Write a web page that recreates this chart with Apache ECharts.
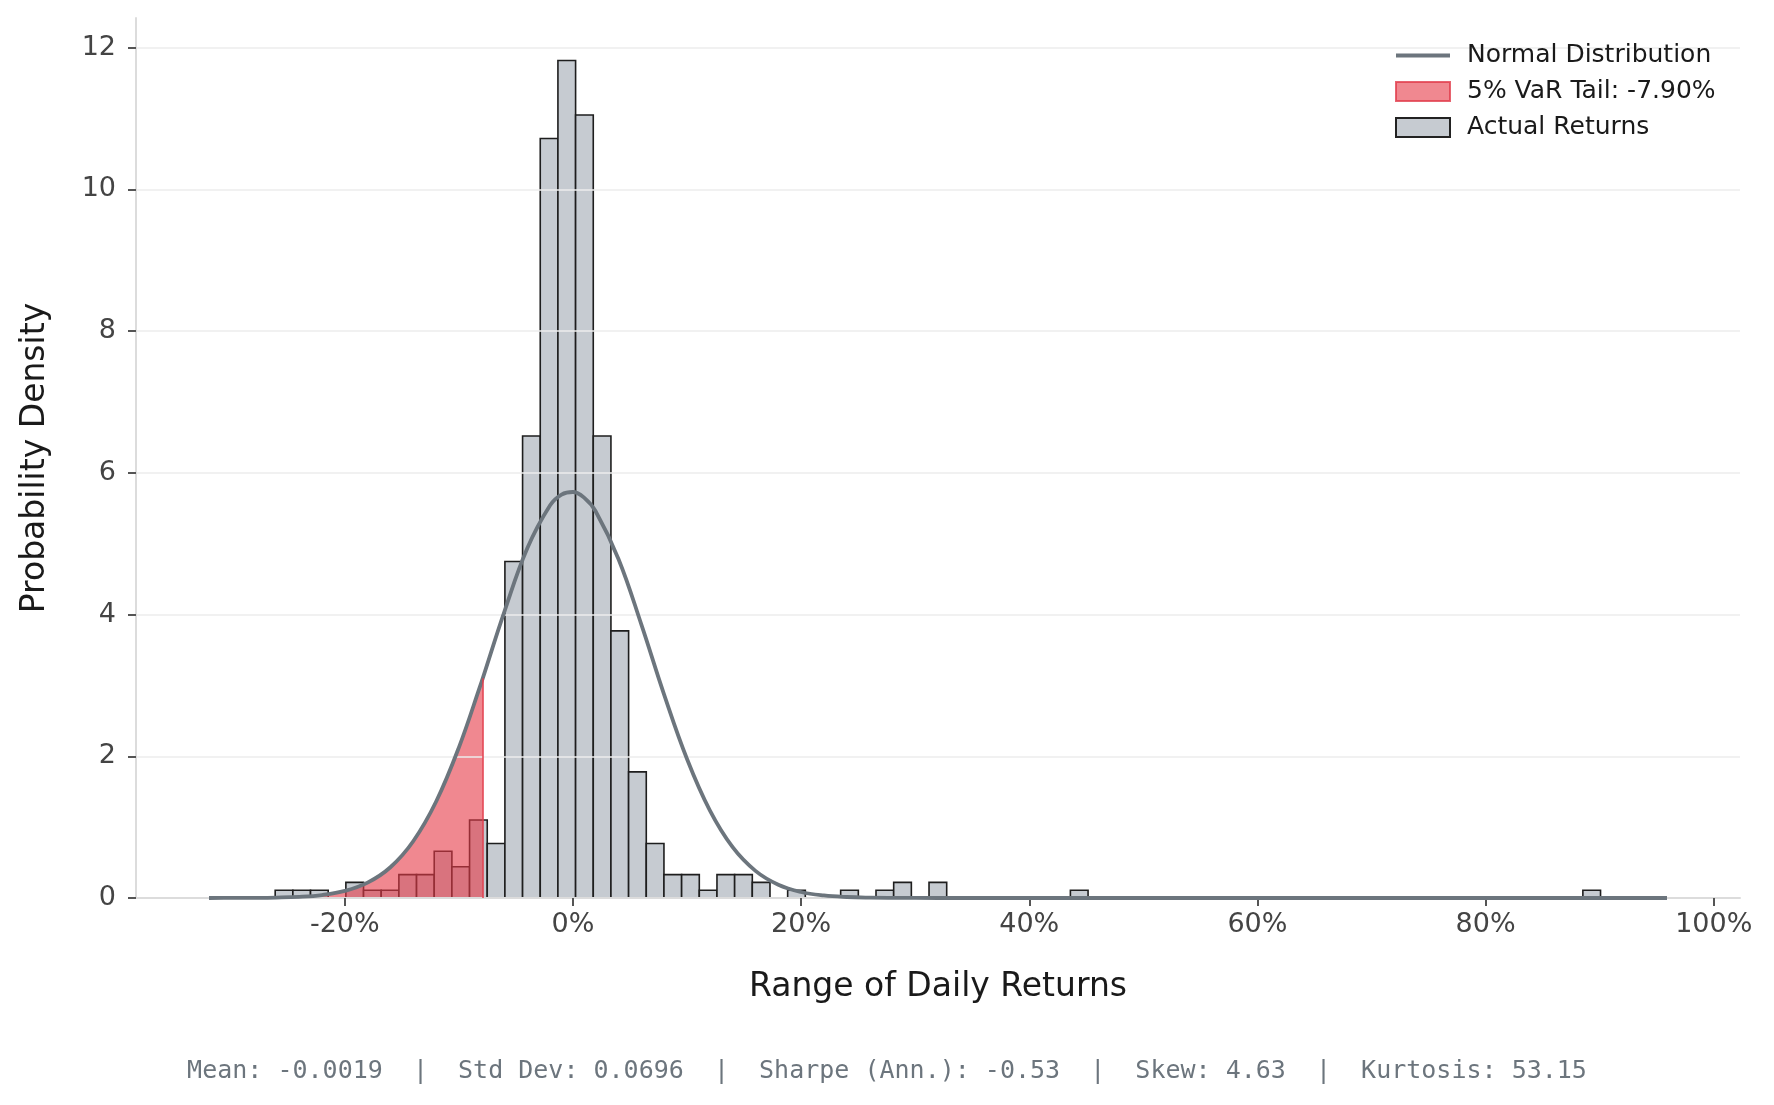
<!DOCTYPE html>
<html>
<head>
<meta charset="utf-8">
<title>Range of Daily Returns</title>
<script src="https://cdn.jsdelivr.net/npm/echarts@6.0.0/dist/echarts.min.js"></script>
<style>
html, body { margin: 0; padding: 0; background: #ffffff; }
#chart { width: 1774px; height: 1105px; }
</style>
</head>
<body>
<div id="chart"></div>
<script>
// histogram of daily returns (x as fraction, density per unit)
const binStart = -0.261;
const binWidth = 0.01549;
const densities = [
    0.11, 0.11, 0.11, 0, 0.22, 0.11, 0.11, 0.33, 0.33, 0.66,
    0.44, 1.10, 0.77, 4.75, 6.52, 10.72, 11.82, 11.05, 6.52, 3.77,
    1.78, 0.77, 0.33, 0.33, 0.11, 0.33, 0.33, 0.22, 0, 0.11,
    0, 0, 0.11, 0, 0.11, 0.22, 0, 0.22, 0, 0,
    0, 0, 0, 0, 0, 0.11, 0, 0, 0, 0,
    0, 0, 0, 0, 0, 0, 0, 0, 0, 0,
    0, 0, 0, 0, 0, 0, 0, 0, 0, 0,
    0, 0, 0, 0, 0.11
];

// normal curve
const curveX = [-0.319, -0.30, -0.28, -0.26, -0.24, -0.22, -0.20, -0.18, -0.16, -0.14,
    -0.12, -0.10, -0.08, -0.079, -0.06, -0.04, -0.02, -0.01, 0.00, 0.01,
    0.02, 0.04, 0.06, 0.08, 0.10, 0.12, 0.14, 0.16, 0.18, 0.20,
    0.22, 0.24, 0.26, 0.28, 0.32, 0.40, 0.60, 0.80, 0.959];
const curveY = [0.000, 0.001, 0.002, 0.006, 0.016, 0.042, 0.100, 0.217, 0.434, 0.801,
    1.358, 2.123, 3.054, 3.103, 4.046, 4.935, 5.542, 5.693, 5.730, 5.647,
    5.455, 4.782, 3.859, 2.868, 1.962, 1.237, 0.717, 0.383, 0.188, 0.085,
    0.036, 0.014, 0.005, 0.002, 0.000, 0, 0, 0, 0];

const varCutoff = -0.079;
const varLabel = '5% VaR Tail: -7.90%';
const xTicks = [-0.2, 0, 0.2, 0.4, 0.6, 0.8, 1.0];
const yTicks = [0, 2, 4, 6, 8, 10, 12];
const statsLine = 'Mean: -0.0019  |  Std Dev: 0.0696  |  Sharpe (Ann.): -0.53  |  Skew: 4.63  |  Kurtosis: 53.15';

const barFill = 'rgb(198,203,209)';
const tailFill = 'rgba(230,57,70,0.6)';
const curveColor = '#6c757d';

// bars as [x0, x1, density], empty bins skipped
const bars = [];
densities.forEach(function (d, i) {
    if (d > 0) {
        bars.push([binStart + i * binWidth, binStart + (i + 1) * binWidth, d]);
    }
});

const curve = curveX.map(function (x, i) { return [x, curveY[i]]; });
const tail = curve.filter(function (p) { return p[0] <= varCutoff; });
const tailTop = curveY[curveX.indexOf(varCutoff)];

const chart = echarts.init(document.getElementById('chart'));

chart.setOption({
    animation: false,
    backgroundColor: '#ffffff',
    textStyle: { fontFamily: 'DejaVu Sans' },
    grid: { left: 136, right: 34, top: 18, bottom: 207 },
    legend: {
        orient: 'vertical',
        left: 1395,
        top: 43,
        padding: 0,
        itemWidth: 54,
        itemHeight: 19,
        itemGap: 11,
        textStyle: { fontSize: 25, color: '#1a1a1a', padding: [0, 0, 0, 12] },
        data: [
            // plain line handle, no marker
            { name: 'Normal Distribution', icon: 'path://M0,0L54,0L54,4L0,4Z', itemStyle: { color: curveColor } },
            { name: varLabel, icon: 'rect', itemStyle: { color: tailFill, borderColor: 'rgba(225,60,75,0.8)', borderWidth: 2 } },
            { name: 'Actual Returns', icon: 'rect', itemStyle: { color: barFill, borderColor: '#222', borderWidth: 2 } }
        ]
    },
    xAxis: {
        type: 'value',
        min: -0.383,
        max: 1.023,
        z: 3,
        name: 'Range of Daily Returns',
        nameLocation: 'middle',
        nameGap: 73,
        nameTextStyle: { fontSize: 33, color: '#1a1a1a' },
        axisLine: { show: true, onZero: false, lineStyle: { color: '#dcdcdc', width: 2 } },
        axisTick: { show: true, length: 8, customValues: xTicks, lineStyle: { color: '#555', width: 2 } },
        axisLabel: {
            customValues: xTicks,
            margin: 13,
            fontSize: 27,
            color: '#444',
            formatter: function (v) { return Math.round(v * 100) + '%'; }
        },
        splitLine: { show: false }
    },
    yAxis: {
        type: 'value',
        min: 0,
        max: 12.42,
        z: 3,
        name: 'Probability Density',
        nameLocation: 'middle',
        nameRotate: 90,
        nameGap: 84,
        nameTextStyle: { fontSize: 33, color: '#1a1a1a' },
        axisLine: { show: true, onZero: false, lineStyle: { color: '#dcdcdc', width: 2 } },
        axisTick: { show: true, length: 8, customValues: yTicks, lineStyle: { color: '#555', width: 2 } },
        axisLabel: { customValues: yTicks, margin: 20, fontSize: 27, color: '#444' },
        splitLine: { show: true, lineStyle: { color: '#ececec', width: 1.5 } }
    },
    series: [
        {
            name: 'Actual Returns',
            type: 'custom',
            z: 1,
            itemStyle: { color: barFill, borderColor: '#222' },
            encode: { x: [0, 1], y: 2 },
            data: bars,
            renderItem: function (params, api) {
                const lo = api.coord([api.value(0), api.value(2)]);
                const hi = api.coord([api.value(1), 0]);
                return {
                    type: 'rect',
                    shape: { x: lo[0], y: lo[1], width: hi[0] - lo[0], height: hi[1] - lo[1] },
                    style: { fill: barFill, stroke: '#1e1e1e', lineWidth: 1.6 }
                };
            }
        },
        {
            name: varLabel,
            type: 'line',
            z: 2,
            data: tail,
            smooth: 0.4,
            symbol: 'none',
            lineStyle: { width: 0 },
            itemStyle: { color: tailFill },
            areaStyle: { color: tailFill, opacity: 1 },
            markLine: {
                silent: true,
                symbol: 'none',
                label: { show: false },
                lineStyle: { color: 'rgba(225,60,75,0.75)', width: 2, type: 'solid' },
                data: [[{ coord: [varCutoff, 0] }, { coord: [varCutoff, tailTop] }]]
            }
        },
        {
            name: 'Normal Distribution',
            type: 'line',
            z: 4,
            data: curve,
            smooth: 0.4,
            symbol: 'none',
            itemStyle: { color: curveColor },
            lineStyle: { color: curveColor, width: 3.8 }
        }
    ],
    graphic: [
        {
            type: 'text',
            left: 'center',
            top: 1059,
            style: {
                text: statsLine,
                fontSize: 25,
                fontFamily: 'DejaVu Sans Mono',
                fill: curveColor
            }
        }
    ]
});
</script>
</body>
</html>
